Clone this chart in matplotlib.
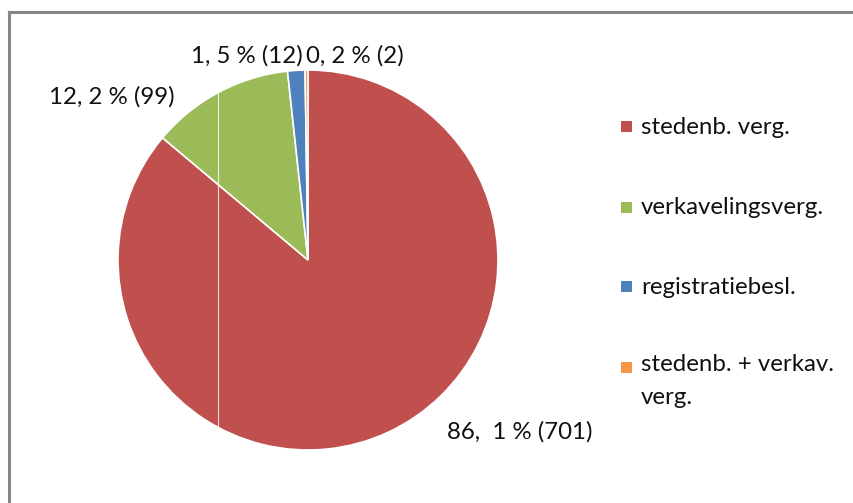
import matplotlib.pyplot as plt
from matplotlib.patches import Rectangle
from matplotlib.lines import Line2D

plt.rcParams['font.family'] = ['Lato', 'DejaVu Sans']

# Data
categories = ['stedenb. verg.', 'verkavelingsverg.', 'registratiebesl.', 'stedenb. + verkav.\nverg.']
counts = [701, 99, 12, 2]
pct_labels = ['86,  1 % (701)', '12, 2 % (99)', '1, 5 % (12)', '0, 2 % (2)']
colors = ['#C0504D', '#9BBB59', '#4F81BD', '#F79646']

W, H = 854, 503
fs = 17.3
fig = plt.figure(figsize=(W / 100, H / 100), dpi=100)

# outer frame (only left and top edges fall inside the picture)
fig.lines.append(Line2D([9.5 / W, 9.5 / W], [0, 1 - 12 / H], transform=fig.transFigure,
                        color='#878787', linewidth=2.2))
fig.lines.append(Line2D([9.5 / W, 1], [1 - 12 / H, 1 - 12 / H], transform=fig.transFigure,
                        color='#878787', linewidth=2.2))

# pie axes: center (308, 260) px, radius 190 px
cx, cy, r = 308, 260, 190
ax = fig.add_axes([(cx - r) / W, (H - cy - r) / H, 2 * r / W, 2 * r / H])
wedges, _ = ax.pie(counts, colors=colors, startangle=90, counterclock=False, radius=1,
                   wedgeprops=dict(edgecolor='white', linewidth=1.2))
ax.set_xlim(-1, 1)
ax.set_ylim(-1, 1)
ax.set_aspect('auto')

# faint rendering seam seen in the original
xs = (218 - cx) / r
ys = (1 - xs ** 2) ** 0.5
ax.plot([xs, xs], [-ys, ys], color='white', linewidth=0.8, alpha=0.8)

# data labels (pixel positions of label centres)
label_pos = [(520, 432), (112, 97), (247, 56), (355, 56)]
for txt, (px, py) in zip(pct_labels, label_pos):
    fig.text(px / W, 1 - py / H, txt, ha='center', va='center', fontsize=fs, color='#111111')

# legend
leg_y = [127, 208, 287, 368]
for cat, col, py in zip(categories, colors, leg_y):
    fig.patches.append(Rectangle((621 / W, 1 - (py + 5) / H), 11 / W, 11 / H,
                                 transform=fig.transFigure, facecolor=col, edgecolor='none'))
    if '\n' in cat:
        fig.text(641 / W, 1 - (py - 14) / H, cat, ha='left', va='top', fontsize=fs,
                 color='#111111', linespacing=1.72)
    else:
        fig.text(641 / W, 1 - py / H, cat, ha='left', va='center', fontsize=fs, color='#111111')

fig.savefig('out.png', dpi=100)
